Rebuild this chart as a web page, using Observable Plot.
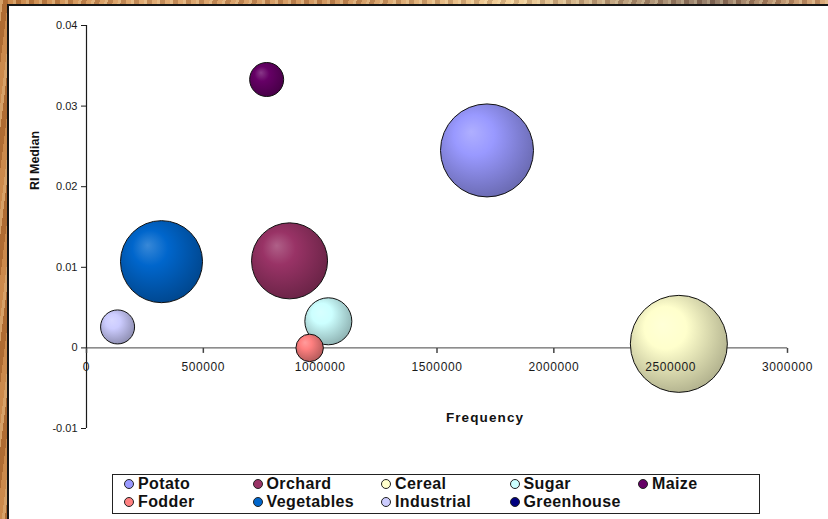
<!DOCTYPE html>
<html>
<head>
<meta charset="utf-8">
<script src="https://cdn.jsdelivr.net/npm/d3@7"></script>
<script src="https://cdn.jsdelivr.net/npm/@observablehq/plot@0.6"></script>
<style>
  html, body { margin: 0; padding: 0; }
  body {
    width: 828px; height: 519px; overflow: hidden; position: relative;
    font-family: "Liberation Sans", Arial, sans-serif;
    background:
      repeating-linear-gradient(97deg, rgba(255,236,190,0.35) 0 3px, rgba(110,60,25,0.22) 3px 8px, rgba(255,215,160,0.18) 8px 13px),
      linear-gradient(90deg, #c07838 0%, #dba26a 18%, #c98a52 40%, #f2d09a 62%, #7e6a5e 86%, #d6a070 100%);
  }
  #panel {
    position: absolute; left: 7px; top: 4px; right: -10px; bottom: -10px;
    background: #fff; border-left: 2px solid #151515; border-top: 2px solid #151515;
  }
  #chart { position: absolute; left: 0; top: 0; }
  #legend {
    position: absolute; left: 112px; top: 474px; width: 646px; height: 38px;
    border: 1px solid #222; background: #fff;
  }
  .item {
    position: absolute; display: flex; align-items: center; height: 18px;
    font-weight: bold; font-size: 16px; letter-spacing: 0.4px; color: #111; white-space: nowrap;
  }
  .swatch {
    width: 8px; height: 8px; border-radius: 50%; border: 1px solid #222; margin-right: 4px;
  }
</style>
</head>
<body>
<div id="panel"></div>
<div id="chart"></div>
<div id="legend"></div>
<script>
// Land-use classes and their bubble values
const categories = ["Potato", "Orchard", "Cereal", "Sugar", "Maize", "Fodder", "Vegetables", "Industrial", "Greenhouse"];
const frequency  = [1714000, 869000, 2535000, 1035000, 771000, 955000, 321000, 133000, null];
const riMedian   = [0.0245, 0.0108, 0.0005, 0.0033, 0.0333, 0.0000, 0.0107, 0.0026, null];
const bubbleSize = [2160, 1444, 2350, 552, 289, 188, 1681, 289, null];
const seriesColors = ["#9999ff", "#993366", "#ffffcc", "#ccffff", "#660066", "#ff8080", "#0066cc", "#ccccff", "#000080"];

const xTicks = [0, 500000, 1000000, 1500000, 2000000, 2500000, 3000000];
const yTicks = [-0.01, 0, 0.01, 0.02, 0.03, 0.04];

const rows = categories
  .map((name, i) => ({name, x: frequency[i], y: riMedian[i], size: bubbleSize[i], fill: `url(#sphere-${i})`}))
  .filter(d => d.x != null);

// short downward tick drawn at each x tick on the zero line
const tickDown = {draw(ctx) { ctx.moveTo(0, 0); ctx.lineTo(0, 5); }};

const chart = Plot.plot({
  width: 828,
  height: 466,
  marginLeft: 86,
  marginRight: 41,
  marginTop: 25,
  marginBottom: 38,
  style: {background: "transparent", fontFamily: "'Liberation Sans', Arial, sans-serif", overflow: "visible"},
  x: {domain: [0, 3000000], axis: null},
  y: {domain: [-0.01, 0.04], axis: null},
  r: {type: "sqrt", domain: [0, 2350], range: [0, 48.5]},
  color: {type: "identity"},
  marks: [
    Plot.ruleY([0], {stroke: "#444", strokeWidth: 1}),
    Plot.ruleX([0], {stroke: "#1a1a1a", strokeWidth: 1.2}),
    Plot.axisY(yTicks, {
      anchor: "left", tickSize: 5, tickPadding: 4, fontSize: 11, color: "#1a1a1a", label: null,
      tickFormat: d => d === 0 ? "0" : d.toFixed(2)
    }),
    Plot.dot(xTicks, {x: d => d, y: () => 0, symbol: tickDown, r: 1, stroke: "#444", fill: "none"}),
    Plot.dot(rows, {x: "x", y: "y", r: "size", fill: "fill", stroke: "#111", strokeWidth: 1, sort: null}),
    Plot.text(xTicks, {x: d => d, y: () => 0, dy: 19, text: d => String(d), fontSize: 12, fill: "#1a1a1a"}),
    Plot.text(["Frequency"], {text: d => d, frameAnchor: "bottom", dx: 48, dy: -7, fontSize: 13.5, fontWeight: "bold", fill: "#111"}),
    Plot.text(["RI Median"], {text: d => d, frameAnchor: "left", dx: -52, dy: -37, rotate: -90, fontSize: 12.5, fontWeight: "bold", fill: "#111"})
  ]
});

// sphere shading for each bubble colour
const defs = d3.select(chart).insert("defs", ":first-child");
seriesColors.forEach((c, i) => {
  const g = defs.append("radialGradient")
    .attr("id", `sphere-${i}`)
    .attr("cx", "42%").attr("cy", "40%").attr("r", "62%")
    .attr("fx", "33%").attr("fy", "30%");
  g.append("stop").attr("offset", "0%").attr("stop-color", d3.interpolateRgb(c, "#fff")(0.22));
  g.append("stop").attr("offset", "35%").attr("stop-color", c);
  g.append("stop").attr("offset", "100%").attr("stop-color", d3.color(c).darker(1).formatHex());
});

// slightly wider spacing for the x tick labels and the x title
const xLabels = xTicks.map(String);
d3.select(chart).selectAll("text").each(function() {
  if (this.closest('[text-anchor="end"]')) return;
  const t = this.textContent;
  if (t === "Frequency") this.style.letterSpacing = "1.1px";
  else if (xLabels.includes(t)) this.style.letterSpacing = "0.6px";
});

document.getElementById("chart").appendChild(chart);

// legend: five entries on the first row, four on the second
const legend = d3.select("#legend");
categories.forEach((name, i) => {
  const col = i < 5 ? i : i - 5;
  const row = i < 5 ? 0 : 1;
  const item = legend.append("div").attr("class", "item")
    .style("left", `${129 + col * 128.5 - 5 - 113}px`)
    .style("top", `${484 + row * 18 - 9 - 475}px`);
  item.append("div").attr("class", "swatch").style("background", seriesColors[i]);
  item.append("span").text(name);
});
</script>
</body>
</html>
